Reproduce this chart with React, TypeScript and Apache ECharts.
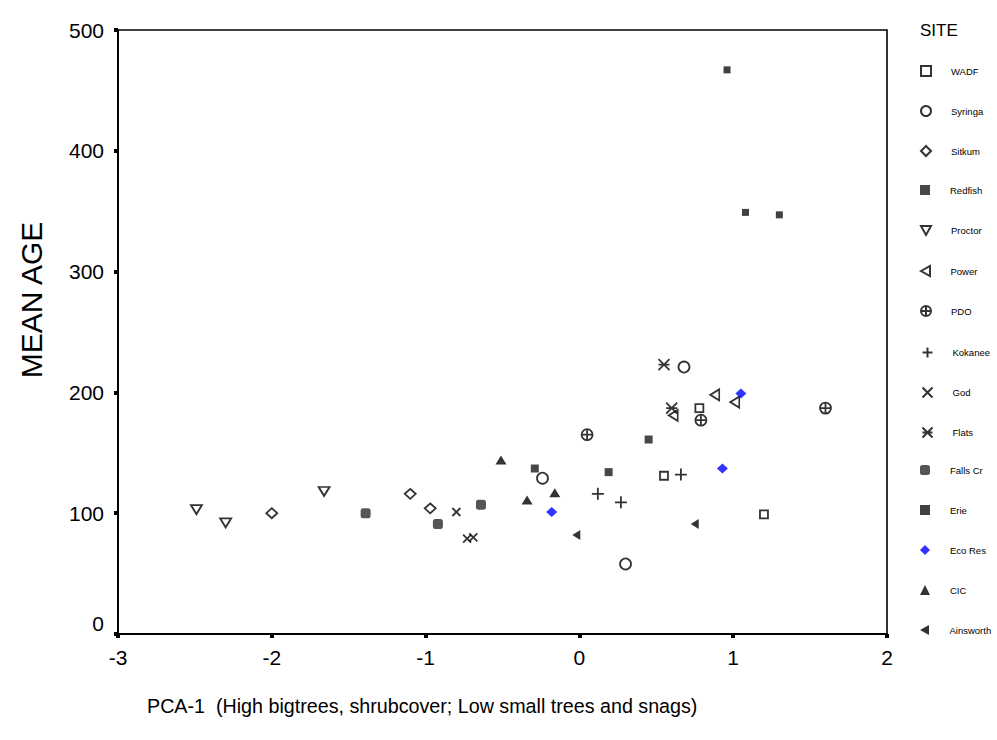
import React, { useEffect, useRef } from "react";
import * as echarts from "echarts";

const siteNames = ["WADF", "Syringa", "Sitkum", "Redfish", "Proctor", "Power", "PDO", "Kokanee", "God", "Flats", "Falls Cr", "Erie", "Eco Res", "CIC", "Ainsworth"];

const WADF = [[0.55, 131], [0.78, 187], [1.2, 99]];
const Syringa = [[-0.24, 129], [0.68, 221], [0.3, 58]];
const Sitkum = [[-2.0, 100], [-1.1, 116], [-0.97, 104]];
const Redfish = [[-0.29, 137], [0.19, 134], [0.45, 161]];
const Proctor = [[-2.49, 103], [-2.3, 92], [-1.66, 118]];
const Power = [[0.61, 181], [0.88, 198], [1.01, 192]];
const PDO = [[0.05, 165], [0.79, 177], [1.6, 187]];
const Kokanee = [[0.12, 116], [0.27, 109], [0.66, 132]];
const God = [[-0.8, 101], [-0.73, 79], [-0.69, 80]];
const Flats = [[0.55, 223], [0.6, 187]];
const FallsCr = [[-1.39, 100], [-0.92, 91], [-0.64, 107]];
const Erie = [[0.96, 467], [1.08, 349], [1.3, 347]];
const EcoRes = [[-0.18, 101], [0.93, 137], [1.05, 199]];
const CIC = [[-0.51, 144], [-0.34, 111], [-0.16, 117]];
const Ainsworth = [[-0.02, 82], [0.75, 91]];

const xTicks = [-3, -2, -1, 0, 1, 2];
const yTicks = [0, 100, 200, 300, 400, 500];

const FONT = 'Arial, "Liberation Sans", Helvetica, sans-serif';

const OPEN = { color: "#ffffff", borderColor: "#000000", borderWidth: 1.8 };
const LINE = { color: "none", borderColor: "#000000", borderWidth: 1.8 };

const seriesDefs: any[] = [
  { name: "WADF", data: WADF, symbol: "rect", symbolSize: 8, itemStyle: OPEN },
  { name: "Syringa", data: Syringa, symbol: "circle", symbolSize: 11, itemStyle: OPEN },
  { name: "Sitkum", data: Sitkum, symbol: "diamond", symbolSize: [11, 10], itemStyle: OPEN },
  { name: "Redfish", data: Redfish, symbol: "rect", symbolSize: 8, itemStyle: { color: "#1a1a1a" } },
  { name: "Proctor", data: Proctor, symbol: "path://M0,0L10,0L5,9Z", symbolSize: [11, 9], itemStyle: OPEN },
  { name: "Power", data: Power, symbol: "path://M0,5L9,0L9,10Z", symbolSize: [9, 11], itemStyle: OPEN },
  { name: "PDO", data: PDO, symbol: "path://M0,5A5,5,0,1,1,10,5A5,5,0,1,1,0,5ZM5,0L5,10M0,5L10,5", symbolSize: 11, itemStyle: OPEN },
  { name: "Kokanee", data: Kokanee, symbol: "path://M5,0L5,10M0,5L10,5", symbolSize: 12, itemStyle: LINE },
  { name: "God", data: God, symbol: "path://M0,0L10,10M10,0L0,10", symbolSize: 8, itemStyle: LINE },
  { name: "Flats", data: Flats, symbol: "path://M0,0L10,10M10,0L0,10M0,5L10,5", symbolSize: 11, itemStyle: LINE },
  { name: "Falls Cr", data: FallsCr, symbol: "roundRect", symbolSize: 10, itemStyle: { color: "#2a2a2a" } },
  { name: "Erie", data: Erie, symbol: "rect", symbolSize: 7, itemStyle: { color: "#111111" } },
  { name: "Eco Res", data: EcoRes, symbol: "diamond", symbolSize: [11, 10], itemStyle: { color: "#0000ff" } },
  { name: "CIC", data: CIC, symbol: "triangle", symbolSize: [11, 9], itemStyle: { color: "#000000" } },
  { name: "Ainsworth", data: Ainsworth, symbol: "path://M0,5L9,0L9,10Z", symbolSize: [8, 10], itemStyle: { color: "#000000" } },
];

export default function App() {
  const ref = useRef<HTMLDivElement>(null);
  useEffect(() => {
    if (!ref.current) return;
    const chart = echarts.init(ref.current, undefined, { renderer: "svg" });
    const legends = siteNames.map((name, i) => ({
      orient: "vertical",
      left: 920,
      top: 65 + i * 40,
      padding: 0,
      itemWidth: 10,
      itemHeight: 10,
      data: [name],
      textStyle: { fontSize: 9.5, fontFamily: FONT, color: "#000", padding: [0, 0, 0, 15] },
      selectedMode: false,
    }));
    chart.setOption({
      animation: false,
      backgroundColor: "#ffffff",
      textStyle: { fontFamily: FONT },
      grid: { left: 118, right: 110, top: 30, bottom: 106, show: true, borderColor: "#000", borderWidth: 1.6, containLabel: false },
      xAxis: {
        type: "value",
        min: xTicks[0],
        max: xTicks[xTicks.length - 1],
        interval: 1,
        splitLine: { show: false },
        axisLine: { show: true, onZero: false, lineStyle: { color: "#000", width: 2 } },
        axisTick: { show: true, length: 4, lineStyle: { color: "#000", width: 4 } },
        axisLabel: { color: "#000", fontSize: 21, fontFamily: FONT, margin: 13 },
      },
      yAxis: {
        type: "value",
        min: yTicks[0],
        max: yTicks[yTicks.length - 1],
        interval: 100,
        splitLine: { show: false },
        axisLine: { show: true, onZero: false, lineStyle: { color: "#000", width: 2 } },
        axisTick: { show: true, length: 4, lineStyle: { color: "#000", width: 4 } },
        axisLabel: {
          color: "#000",
          fontSize: 21,
          fontFamily: FONT,
          margin: 14,
          formatter: (v: number) => (v === 0 ? "{z|0}" : String(v)),
          rich: { z: { fontSize: 21, fontFamily: FONT, color: "#000", padding: [0, 0, 22, 0] } },
        },
      },
      legend: legends,
      graphic: [
        { type: "text", left: 920, top: 22, style: { text: "SITE", fontSize: 17, fontFamily: FONT, fill: "#000" } },
        { type: "text", x: 31, y: 300, rotation: Math.PI / 2, style: { text: "MEAN AGE", fontSize: 30, fontFamily: FONT, fill: "#000", align: "center", verticalAlign: "middle" } },
        { type: "text", left: 147, top: 696, style: { text: "PCA-1\u00a0\u00a0(High bigtrees, shrubcover; Low small trees and snags)", fontSize: 19.7, fontFamily: FONT, fill: "#000" } },
      ],
      series: seriesDefs.map((s) => ({ type: "scatter", ...s })),
    });
    return () => chart.dispose();
  }, []);
  return <div ref={ref} style={{ position: "absolute", left: 0, top: 0, width: 997, height: 740 }} />;
}
